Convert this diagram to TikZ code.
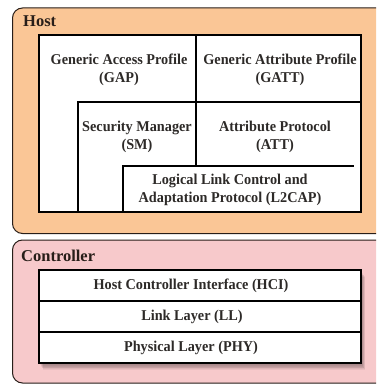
\documentclass[tikz,border=0pt]{standalone}
\usepackage{fontspec}
\setmainfont{Liberation Serif}
\newfontfamily\lblfont[FakeStretch=0.95]{Liberation Serif}
\definecolor{hostfill}{RGB}{250,198,150}
\definecolor{ctrlfill}{RGB}{247,201,203}
\definecolor{txt}{RGB}{45,42,40}
\definecolor{rim}{RGB}{40,30,25}
\tikzset{
  lbl/.style={font=\lblfont\bfseries\fontsize{15}{17.5}\selectfont, align=center, text=txt, inner sep=0pt},
  grouplbl/.style={font=\bfseries\fontsize{16.5}{19}\selectfont, text=rim, anchor=base west, inner sep=0pt},
  outer/.style={draw=rim, line width=1pt, rounded corners=10pt},
  inner/.style={draw=black, line width=1.2pt},
}
\begin{document}
\begin{tikzpicture}[x=1pt,y=-1pt]
\useasboundingbox (0,0) rectangle (376,385);
\clip (0,0) rectangle (376,385);
% Host group
\draw[outer, fill=hostfill] (12.5,8) rectangle (400,233.5);
\node[grouplbl] (hostlbl) at (23,27) {Host};
\fill[white] (39,35) rectangle (361,212);
\draw[inner] (39,35) rectangle (361,212);
\draw[inner] (196,35) -- (196,166);
\draw[inner] (78,212) -- (78,102) -- (361,102);
\draw[inner] (123,212) -- (123,166) -- (354,166);
\node[lbl] (gap) at (119,70) {Generic Access Profile\\(GAP)};
\node[lbl] (gatt) at (280,70) {Generic Attribute Profile\\(GATT)};
\node[lbl] (sm) at (137,137) {Security Manager\\(SM)};
\node[lbl] (att) at (275,137) {Attribute Protocol\\(ATT)};
\node[lbl] (l2cap) at (230,190) {Logical Link Control and\\Adaptation Protocol (L2CAP)};
% Controller group
\draw[outer, fill=ctrlfill] (12.5,240) rectangle (400,383);
\node[grouplbl] (ctrllbl) at (21,261) {Controller};
\foreach \i in {1,...,8}
  \fill[black, opacity=0.05] (39+\i*0.5,270+\i*0.9) rectangle (361+\i*0.5,363+\i*0.9);
\fill[white] (39,270) rectangle (361,363);
\draw[inner] (39,270) rectangle (361,363);
\draw[inner] (39,301) -- (361,301);
\draw[inner] (39,332) -- (361,332);
\node[lbl] (hci) at (191,286) {Host Controller Interface (HCI)};
\node[lbl] (ll) at (192,317) {Link Layer (LL)};
\node[lbl] (phy) at (191,348) {Physical Layer (PHY)};
\end{tikzpicture}
\end{document}
